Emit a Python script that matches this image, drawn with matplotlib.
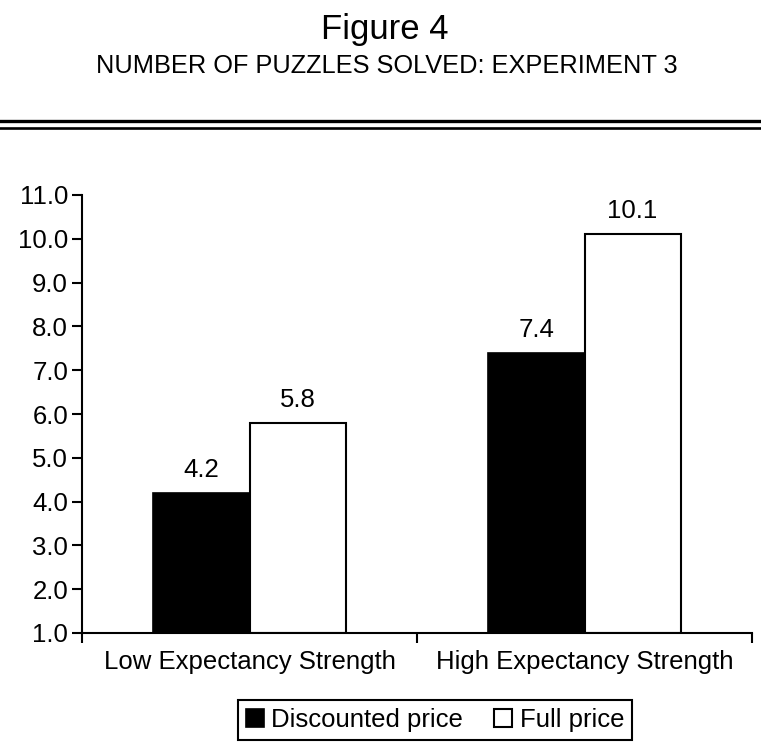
import matplotlib.pyplot as plt
import numpy as np

plt.rcParams['font.family'] = ['Liberation Sans', 'DejaVu Sans']

categories = ["Low Expectancy Strength", "High Expectancy Strength"]
discounted = [4.2, 7.4]
full = [5.8, 10.1]
series_names = ["Discounted price", "Full price"]
y_ticks = [1.0, 2.0, 3.0, 4.0, 5.0, 6.0, 7.0, 8.0, 9.0, 10.0, 11.0]

FS = 18.5

fig = plt.figure(figsize=(7.61, 7.48), dpi=100)
ax = fig.add_axes([82 / 761, 1 - 633 / 748, 670 / 761, 438 / 748])

x = np.arange(len(categories))
w = 0.287
base = 1.0
b1 = ax.bar(x - w / 2, np.array(discounted) - base, w, bottom=base,
            color="black", edgecolor="black", linewidth=1.2, label=series_names[0])
b2 = ax.bar(x + w / 2, np.array(full) - base, w, bottom=base,
            color="white", edgecolor="black", linewidth=1.5, label=series_names[1])

for xi, v in zip(x - w / 2, discounted):
    ax.text(xi, v + 0.25, f"{v:.1f}", ha="center", va="bottom", fontsize=FS)
for xi, v in zip(x + w / 2, full):
    ax.text(xi, v + 0.25, f"{v:.1f}", ha="center", va="bottom", fontsize=FS)

ax.set_xlim(-0.5, 1.5)
ax.set_ylim(1.0, 11.0)
ax.set_yticks(y_ticks)
ax.set_yticklabels([f"{t:.1f}" for t in y_ticks], fontsize=FS)
ax.set_xticks(x)
ax.set_xticklabels(categories, fontsize=FS)
ax.set_xticks([-0.5, 0.5, 1.5], minor=True)
ax.tick_params(axis="x", which="major", length=0, pad=12)
ax.tick_params(axis="x", which="minor", length=7, width=1.5, direction="out")
ax.tick_params(axis="y", length=7, width=1.5, direction="out", pad=3)
for s in ["top", "right"]:
    ax.spines[s].set_visible(False)
for s in ["left", "bottom"]:
    ax.spines[s].set_linewidth(1.5)

fig.text(0.505, 1 - 30 / 748, "Figure 4", ha="center", va="center", fontsize=25)
fig.text(0.508, 1 - 66 / 748, "NUMBER OF PUZZLES SOLVED: EXPERIMENT 3",
         ha="center", va="center", fontsize=18.3)
fig.add_artist(plt.Line2D([0, 1], [1 - 121 / 748] * 2, color="black", linewidth=2.4))
fig.add_artist(plt.Line2D([0, 1], [1 - 127.5 / 748] * 2, color="black", linewidth=1.9))

leg = fig.legend(handles=[b1, b2], labels=series_names, loc="center",
                 bbox_to_anchor=(435 / 761, 1 - 720 / 748), ncol=2, fontsize=FS,
                 handlelength=0.7, handleheight=0.7, handletextpad=0.3,
                 columnspacing=1.2, borderpad=0.3, fancybox=False,
                 edgecolor="black", framealpha=1)
leg.get_frame().set_linewidth(1.5)

fig.savefig("out.png", dpi=100)
